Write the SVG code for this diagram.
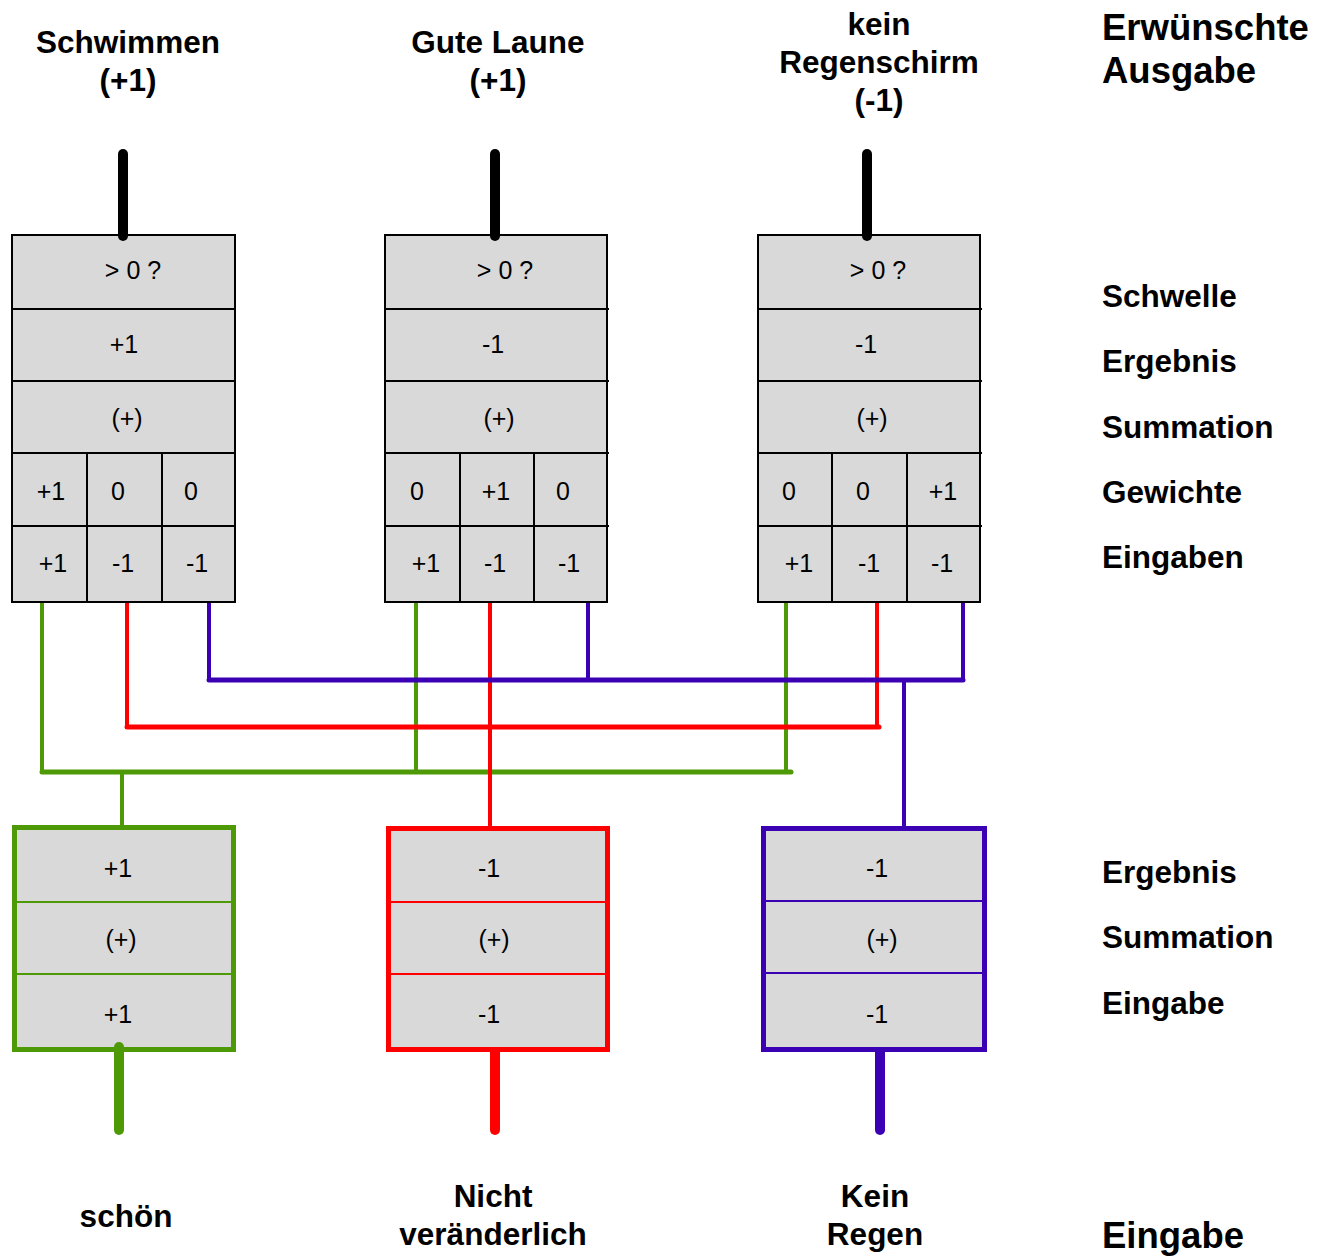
<svg xmlns="http://www.w3.org/2000/svg" width="1331" height="1257" viewBox="0 0 1331 1257">
  <style>
    .cell { fill: #d9d9d9; stroke: #000; stroke-width: 2; }
    .div { stroke: #000; stroke-width: 2; }
    .ct { font-family: "Liberation Sans", Arial, sans-serif; font-size: 25px; fill: #000; text-anchor: middle; }
    .hd { font-family: "Liberation Sans", Arial, sans-serif; font-size: 31.5px; font-weight: bold; fill: #000; text-anchor: middle; }
    .lb { font-family: "Liberation Sans", Arial, sans-serif; font-size: 31.5px; font-weight: bold; fill: #000; }
    .lbb { font-family: "Liberation Sans", Arial, sans-serif; font-size: 36.5px; font-weight: bold; fill: #000; }
    .stem { stroke-width: 10; stroke-linecap: round; fill: none; }
    .wire { fill: none; stroke-width: 4; }
    .bus { fill: none; stroke-width: 5; stroke-linecap: round; }
    .g { stroke: #4e9a06; }
    .r { stroke: #ff0000; }
    .b { stroke: #3c00b4; }
  </style>

  <!-- output labels -->
  <g id="label-schwimmen">
    <text class="hd" x="128" y="53">Schwimmen</text>
    <text class="hd" x="128" y="91">(+1)</text>
  </g>
  <g id="label-gute-laune">
    <text class="hd" x="498" y="53">Gute Laune</text>
    <text class="hd" x="498" y="91">(+1)</text>
  </g>
  <g id="label-kein-regenschirm">
    <text class="hd" x="879" y="35">kein</text>
    <text class="hd" x="879" y="73">Regenschirm</text>
    <text class="hd" x="879" y="111">(-1)</text>
  </g>

  <!-- row legend on the right -->
  <g id="legend">
    <text class="lbb" x="1102" y="40">Erwünschte</text>
    <text class="lbb" x="1102" y="83">Ausgabe</text>
    <text class="lb" x="1102" y="307">Schwelle</text>
    <text class="lb" x="1102" y="372">Ergebnis</text>
    <text class="lb" x="1102" y="438">Summation</text>
    <text class="lb" x="1102" y="503">Gewichte</text>
    <text class="lb" x="1102" y="568">Eingaben</text>
    <text class="lb" x="1102" y="883">Ergebnis</text>
    <text class="lb" x="1102" y="948">Summation</text>
    <text class="lb" x="1102" y="1014">Eingabe</text>
    <text class="lbb" x="1102" y="1248">Eingabe</text>
  </g>

  <!-- input labels -->
  <g id="label-schoen">
    <text class="hd" x="126" y="1227">schön</text>
  </g>
  <g id="label-nicht-veraenderlich">
    <text class="hd" x="493" y="1207">Nicht</text>
    <text class="hd" x="493" y="1245">veränderlich</text>
  </g>
  <g id="label-kein-regen">
    <text class="hd" x="875" y="1207">Kein</text>
    <text class="hd" x="875" y="1245">Regen</text>
  </g>

  <!-- perceptron 1: Schwimmen -->
  <g id="neuron-schwimmen">
    <rect class="cell" x="12" y="235" width="223" height="367"/>
    <path class="div" d="M12 309 H236 M12 381 H236 M12 453 H236 M12 526 H236 M87 453 V602 M162 453 V602"/>
    <text class="ct" x="133" y="279">&gt; 0 ?</text>
    <text class="ct" x="124" y="353">+1</text>
    <text class="ct" x="127" y="427">(+)</text>
    <text class="ct" x="51" y="500">+1</text>
    <text class="ct" x="118" y="500">0</text>
    <text class="ct" x="191" y="500">0</text>
    <text class="ct" x="53" y="572">+1</text>
    <text class="ct" x="123" y="572">-1</text>
    <text class="ct" x="197" y="572">-1</text>
  </g>

  <!-- perceptron 2: Gute Laune -->
  <g id="neuron-gute-laune">
    <rect class="cell" x="385" y="235" width="222" height="367"/>
    <path class="div" d="M385 309 H609 M385 381 H609 M385 453 H609 M385 526 H609 M460 453 V602 M534 453 V602"/>
    <text class="ct" x="505" y="279">&gt; 0 ?</text>
    <text class="ct" x="493" y="353">-1</text>
    <text class="ct" x="499" y="427">(+)</text>
    <text class="ct" x="417" y="500">0</text>
    <text class="ct" x="496" y="500">+1</text>
    <text class="ct" x="563" y="500">0</text>
    <text class="ct" x="426" y="572">+1</text>
    <text class="ct" x="495" y="572">-1</text>
    <text class="ct" x="569" y="572">-1</text>
  </g>

  <!-- perceptron 3: kein Regenschirm -->
  <g id="neuron-kein-regenschirm">
    <rect class="cell" x="758" y="235" width="222" height="367"/>
    <path class="div" d="M758 309 H982 M758 381 H982 M758 453 H982 M758 526 H982 M832 453 V602 M907 453 V602"/>
    <text class="ct" x="878" y="279">&gt; 0 ?</text>
    <text class="ct" x="866" y="353">-1</text>
    <text class="ct" x="872" y="427">(+)</text>
    <text class="ct" x="789" y="500">0</text>
    <text class="ct" x="863" y="500">0</text>
    <text class="ct" x="943" y="500">+1</text>
    <text class="ct" x="799" y="572">+1</text>
    <text class="ct" x="869" y="572">-1</text>
    <text class="ct" x="942" y="572">-1</text>
  </g>

  <!-- input node: schön -->
  <g id="input-schoen">
    <rect x="14.5" y="827.5" width="219" height="222" fill="#d9d9d9" stroke="#4e9a06" stroke-width="5"/>
    <path d="M14 902 H234 M14 974 H234" stroke="#4e9a06" stroke-width="2"/>
    <text class="ct" x="118" y="877">+1</text>
    <text class="ct" x="121" y="948">(+)</text>
    <text class="ct" x="118" y="1023">+1</text>
  </g>

  <!-- input node: Nicht veränderlich -->
  <g id="input-nicht-veraenderlich">
    <rect x="388.5" y="828.5" width="219" height="221" fill="#d9d9d9" stroke="#ff0000" stroke-width="5"/>
    <path d="M388 902 H608 M388 974 H608" stroke="#ff0000" stroke-width="2"/>
    <text class="ct" x="489" y="877">-1</text>
    <text class="ct" x="494" y="948">(+)</text>
    <text class="ct" x="489" y="1023">-1</text>
  </g>

  <!-- input node: Kein Regen -->
  <g id="input-kein-regen">
    <rect x="763.5" y="828.5" width="221" height="221" fill="#d9d9d9" stroke="#3c00b4" stroke-width="5"/>
    <path d="M763 901 H987 M763 973 H987" stroke="#3c00b4" stroke-width="2"/>
    <text class="ct" x="877" y="877">-1</text>
    <text class="ct" x="882" y="948">(+)</text>
    <text class="ct" x="877" y="1023">-1</text>
  </g>

  <!-- connectors (drawn last so the round stem caps sit on the node borders) -->
  <g id="connectors">
    <!-- outputs -->
    <line class="stem" x1="123" y1="154" x2="123" y2="236" stroke="#000"/>
    <line class="stem" x1="495" y1="154" x2="495" y2="236" stroke="#000"/>
    <line class="stem" x1="867" y1="154" x2="867" y2="236" stroke="#000"/>
    <!-- green input "schön" -->
    <path class="wire g" d="M42 603 V772 M416 603 V772 M786 603 V772 M122 772 V826"/>
    <path class="bus g" d="M42 772 H791"/>
    <!-- red input "Nicht veränderlich" -->
    <path class="wire r" d="M127 603 V727 M877 603 V727 M490 603 V827"/>
    <path class="bus r" d="M127 727 H879"/>
    <!-- blue input "Kein Regen" -->
    <path class="wire b" d="M209 603 V680 M588 603 V680 M963 603 V680 M904 680 V827"/>
    <path class="bus b" d="M209 680 H963"/>
    <!-- input stems -->
    <line class="stem g" x1="119" y1="1047" x2="119" y2="1130"/>
    <line class="stem r" x1="495" y1="1052" x2="495" y2="1130"/>
    <line class="stem b" x1="880" y1="1052" x2="880" y2="1130"/>
  </g>
</svg>
